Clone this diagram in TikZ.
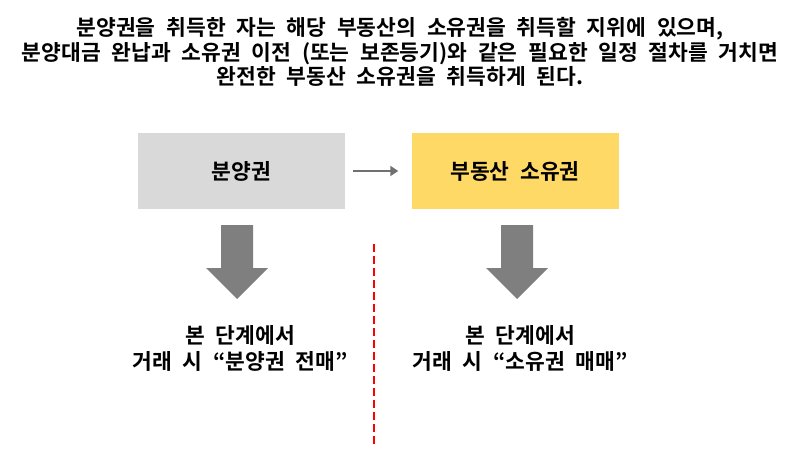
\documentclass[tikz,border=0pt]{standalone}
\usepackage{fontspec}
\setmainfont{Noto Sans CJK KR}[BoldFont={* Bold}, WordSpace=2.2]
\usetikzlibrary{arrows.meta,calc}
\definecolor{boxgray}{HTML}{D9D9D9}
\definecolor{boxyellow}{HTML}{FFD966}
\definecolor{arrgray}{HTML}{7F7F7F}
\definecolor{smallgray}{HTML}{707070}
\tikzset{
  txt/.style={font=\bfseries\fontsize{21.5}{24.5}\selectfont, align=center, inner sep=0pt, text=black},
  lowtxt/.style={txt, font=\bfseries\fontsize{21.5}{26}\selectfont},
  stagebox/.style={txt, minimum width=207pt, minimum height=76pt, draw=none},
  bigarrow/.style={fill=arrgray, draw=none},
  linkarrow/.style={draw=smallgray, line width=2.4pt, -{Triangle[length=8pt,width=10pt]}},
  divider/.style={draw=red, line width=2.8pt, dash pattern=on 8pt off 4pt}
}
\begin{document}
\begin{tikzpicture}[x=1pt,y=-1pt]
\useasboundingbox (0,0) rectangle (800,468);
\node[txt] (title) at (400,52) {분양권을 취득한 자는 해당 부동산의 소유권을 취득할 지위에 있으며,\\
분양대금 완납과 소유권 이전 (또는 보존등기)와 같은 필요한 일정 절차를 거치면\\
완전한 부동산 소유권을 취득하게 된다.};
\node[stagebox, fill=boxgray] (b1) at (241.5,171) {분양권};
\node[stagebox, fill=boxyellow] (b2) at (515,171) {부동산 소유권};
\draw[linkarrow] ($(b1.east)+(8,0)$) -- ($(b2.west)+(-13,0)$);
% big arrows
\coordinate (a1) at (237,225);
\fill[bigarrow] ($(a1)+(-16,0)$) -- ($(a1)+(16,0)$) -- ($(a1)+(16,43)$) -- ($(a1)+(31,43)$) -- ($(a1)+(0,74)$) -- ($(a1)+(-31,43)$) -- ($(a1)+(-16,43)$) -- cycle;
\coordinate (a2) at (517,225);
\fill[bigarrow] ($(a2)+(-16,0)$) -- ($(a2)+(16,0)$) -- ($(a2)+(16,43)$) -- ($(a2)+(31,43)$) -- ($(a2)+(0,74)$) -- ($(a2)+(-31,43)$) -- ($(a2)+(-16,43)$) -- cycle;
\node[lowtxt] (t1) at (240,348) {본 단계에서\\거래 시 “분양권 전매”};
\node[lowtxt] (t2) at (520,348) {본 단계에서\\거래 시 “소유권 매매”};
\coordinate (d1) at (374,244);
\coordinate (d2) at (374,447);
\draw[divider] (d1) -- (d2);
\end{tikzpicture}
\end{document}
